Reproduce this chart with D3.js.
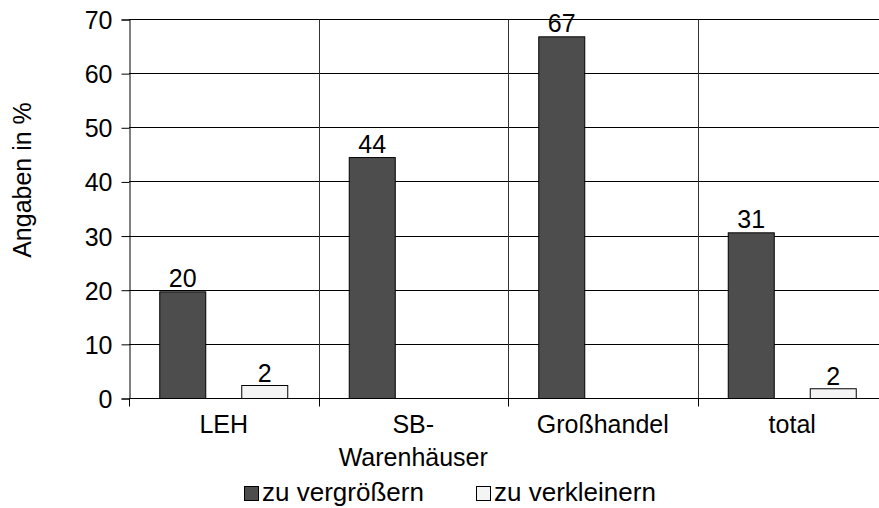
<!DOCTYPE html>
<html><head><meta charset="utf-8">
<script src="https://cdn.jsdelivr.net/npm/d3@7"></script>
<style>
html,body{margin:0;padding:0;background:#fff;overflow:hidden}
text{font-family:"Liberation Sans",Arial,sans-serif;fill:#000}
</style></head><body>
<svg id="c" width="879" height="508"></svg>
<script>
const categories = [["LEH"], ["SB-", "Warenhäuser"], ["Großhandel"], ["total"]];
const categoryKeys = ["LEH", "SB-Warenhäuser", "Großhandel", "total"];
const seriesNames = ["zu vergrößern", "zu verkleinern"];
const valuesGrow = [19.7, 44.5, 66.8, 30.6];
const labelsGrow = ["20", "44", "67", "31"];
const valuesShrink = [2.4, 0, 0, 1.8];
const labelsShrink = ["2", "", "", "2"];
const yTicks = [0, 10, 20, 30, 40, 50, 60, 70];
const yTitle = "Angaben in %";

(function () {
const FS = 25;
const svg = d3.select("#c");
const pL = 129, pR = 887, pT = 19.5, pB = 398.5;
const x = d3.scaleBand().domain(categoryKeys).range([pL, pR]);
const inner = d3.scaleBand().domain(["g", "s"]).range([0, x.bandwidth()]).paddingInner(0.439).paddingOuter(0.375);
const y = d3.scaleLinear().domain([0, 70]).range([pB, pT]);

// horizontal grid
svg.append("g").selectAll("line").data(yTicks).join("line")
  .attr("x1", pL).attr("x2", 879)
  .attr("y1", d => Math.round(y(d) - 0.5) + 0.5).attr("y2", d => Math.round(y(d) - 0.5) + 0.5)
  .attr("stroke", "#000").attr("stroke-width", 1.2);
// vertical separators
svg.append("g").selectAll("line").data(categoryKeys.slice(1)).join("line")
  .attr("x1", d => Math.round(x(d)) + 0.5).attr("x2", d => Math.round(x(d)) + 0.5)
  .attr("y1", pT).attr("y2", pB)
  .attr("stroke", "#333").attr("stroke-width", 1);

// y axis
const yAxis = svg.append("g").attr("transform", `translate(${pL + 0.5},0)`)
  .call(d3.axisLeft(y).tickValues(yTicks).tickSize(8).tickPadding(9));
yAxis.select(".domain").attr("stroke", "#000");
yAxis.selectAll(".tick line").attr("stroke", "#000");
yAxis.selectAll("text").attr("font-size", FS).attr("dy", "0.36em")
  .style("font-family", '"Liberation Sans",Arial,sans-serif').attr("fill", "#000");

// x axis ticks
const xTickPos = categoryKeys.map(d => x(d)).concat([pR]);
svg.append("line").attr("x1", pL).attr("x2", 879).attr("y1", pB).attr("y2", pB).attr("stroke", "#000").attr("stroke-width", 1.2);
svg.append("g").selectAll("line").data(xTickPos).join("line")
  .attr("x1", d => Math.round(d) + 0.5).attr("x2", d => Math.round(d) + 0.5)
  .attr("y1", pB).attr("y2", pB + 8).attr("stroke", "#000");

// category labels
categories.forEach((lines, i) => {
  const cx = x(categoryKeys[i]) + x.bandwidth() / 2;
  lines.forEach((t, j) => {
    svg.append("text").attr("x", cx).attr("y", 433 + j * 33)
      .attr("text-anchor", "middle").attr("font-size", FS).text(t);
  });
});

// bars
const grow = categoryKeys.map((k, i) => ({k, v: valuesGrow[i], l: labelsGrow[i]}));
const shrink = categoryKeys.map((k, i) => ({k, v: valuesShrink[i], l: labelsShrink[i]}));
svg.append("g").selectAll("rect").data(grow).join("rect")
  .attr("x", d => x(d.k) + inner("g")).attr("width", inner.bandwidth())
  .attr("y", d => y(d.v)).attr("height", d => y(0) - y(d.v))
  .attr("fill", "#4d4d4d").attr("stroke", "#000").attr("stroke-width", 1);
svg.append("g").selectAll("rect").data(shrink.filter(d => d.v > 0)).join("rect")
  .attr("x", d => x(d.k) + inner("s")).attr("width", inner.bandwidth())
  .attr("y", d => y(d.v)).attr("height", d => y(0) - y(d.v))
  .attr("fill", "#f4f4f4").attr("stroke", "#000").attr("stroke-width", 1);

// value labels
svg.append("g").selectAll("text").data(grow).join("text")
  .attr("x", d => x(d.k) + inner("g") + inner.bandwidth() / 2)
  .attr("y", d => y(d.v) - 5).attr("text-anchor", "middle").attr("font-size", FS).text(d => d.l);
svg.append("g").selectAll("text").data(shrink.filter(d => d.l)).join("text")
  .attr("x", d => x(d.k) + inner("s") + inner.bandwidth() / 2)
  .attr("y", d => y(d.v) - 4).attr("text-anchor", "middle").attr("font-size", FS).text(d => d.l);

// y title
svg.append("text").attr("transform", "translate(31,180) rotate(-90)")
  .attr("text-anchor", "middle").attr("font-size", FS).text(yTitle);

// legend
const legendX = [244, 476];
const legendFill = ["#4d4d4d", "#f4f4f4"];
seriesNames.forEach((n, i) => {
  svg.append("rect").attr("x", legendX[i] + 0.5).attr("y", 486.5).attr("width", 14).attr("height", 14)
    .attr("fill", legendFill[i]).attr("stroke", "#000");
  svg.append("text").attr("x", legendX[i] + 18).attr("y", 501).attr("font-size", 26).text(n);
});
})();
</script></body></html>
